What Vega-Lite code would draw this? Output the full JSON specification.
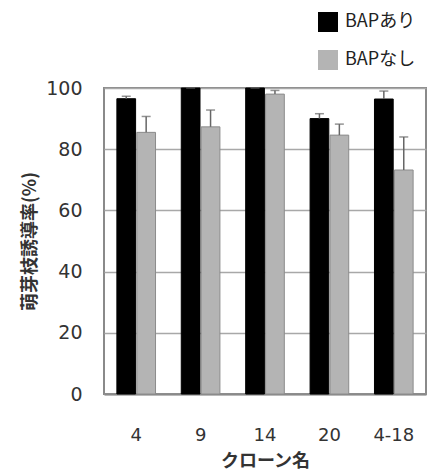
{
  "$schema": "https://vega.github.io/schema/vega-lite/v6.json",
  "width": 322,
  "height": 306,
  "autosize": {"type": "none"},
  "padding": {"left": 104, "top": 88, "right": 1, "bottom": 82},
  "background": "white",
  "config": {
    "font": "Noto Sans CJK JP",
    "view": {"stroke": "#8a8a8a", "strokeWidth": 2},
    "axis": {"labelColor": "#333", "titleColor": "#333"}
  },
  "data": {
    "values": [
      {"clone": "4", "treatment": "BAPあり", "value": 96.5, "err": 0.8},
      {"clone": "4", "treatment": "BAPなし", "value": 85.5, "err": 5.2},
      {"clone": "9", "treatment": "BAPあり", "value": 100, "err": 0},
      {"clone": "9", "treatment": "BAPなし", "value": 87.3, "err": 5.5},
      {"clone": "14", "treatment": "BAPあり", "value": 100, "err": 0},
      {"clone": "14", "treatment": "BAPなし", "value": 98, "err": 1.2},
      {"clone": "20", "treatment": "BAPあり", "value": 90, "err": 1.6},
      {"clone": "20", "treatment": "BAPなし", "value": 84.6, "err": 3.6},
      {"clone": "4-18", "treatment": "BAPあり", "value": 96.4, "err": 2.6},
      {"clone": "4-18", "treatment": "BAPなし", "value": 73.2, "err": 10.8}
    ]
  },
  "transform": [{"calculate": "datum.value + datum.err", "as": "upper"}],
  "encoding": {
    "x": {
      "field": "clone",
      "type": "nominal",
      "sort": ["4", "9", "14", "20", "4-18"],
      "scale": {"paddingInner": 0.4, "paddingOuter": 0.2},
      "axis": {
        "title": "クローン名",
        "titleFontSize": 18,
        "titleFontWeight": "bold",
        "titlePadding": 8,
        "labelAngle": 0,
        "labelFontSize": 18,
        "labelFont": "DejaVu Sans",
        "labelPadding": 32,
        "ticks": false,
        "domainColor": "#8a8a8a",
        "domainWidth": 2
      }
    },
    "xOffset": {
      "field": "treatment",
      "type": "nominal",
      "sort": ["BAPあり", "BAPなし"],
      "scale": {"paddingInner": 0.06}
    }
  },
  "layer": [
    {
      "mark": {"type": "bar", "strokeWidth": 1},
      "encoding": {
        "y": {
          "field": "value",
          "type": "quantitative",
          "scale": {"domain": [0, 100], "nice": false},
          "axis": {
            "title": "萌芽枝誘導率(%)",
            "titleFontSize": 18,
            "titleFontWeight": "bold",
            "titlePadding": 6,
            "values": [0, 20, 40, 60, 80, 100],
            "labelFontSize": 19,
            "labelFont": "DejaVu Sans",
            "labelPadding": 22,
            "ticks": false,
            "domain": false,
            "gridColor": "#a8a8a8",
            "gridWidth": 1.5
          }
        },
        "color": {
          "field": "treatment",
          "type": "nominal",
          "sort": ["BAPあり", "BAPなし"],
          "scale": {"domain": ["BAPあり", "BAPなし"], "range": ["#000000", "#b4b4b4"]},
          "legend": {
            "title": null,
            "orient": "none",
            "legendX": 214,
            "legendY": -76,
            "symbolType": "square",
            "symbolSize": 400,
            "symbolStrokeWidth": 0,
            "labelFontSize": 18,
            "labelColor": "#222",
            "labelOffset": 7,
            "rowPadding": 18
          }
        },
        "stroke": {
          "field": "treatment",
          "type": "nominal",
          "scale": {"domain": ["BAPあり", "BAPなし"], "range": ["#000000", "#8c8c8c"]},
          "legend": null
        }
      }
    },
    {
      "mark": {"type": "rule", "color": "#666", "strokeWidth": 1.5},
      "encoding": {
        "y": {"field": "value", "type": "quantitative"},
        "y2": {"field": "upper"}
      }
    },
    {
      "mark": {"type": "tick", "color": "#666", "thickness": 1.5, "size": 9},
      "encoding": {
        "y": {"field": "upper", "type": "quantitative"}
      }
    }
  ]
}
